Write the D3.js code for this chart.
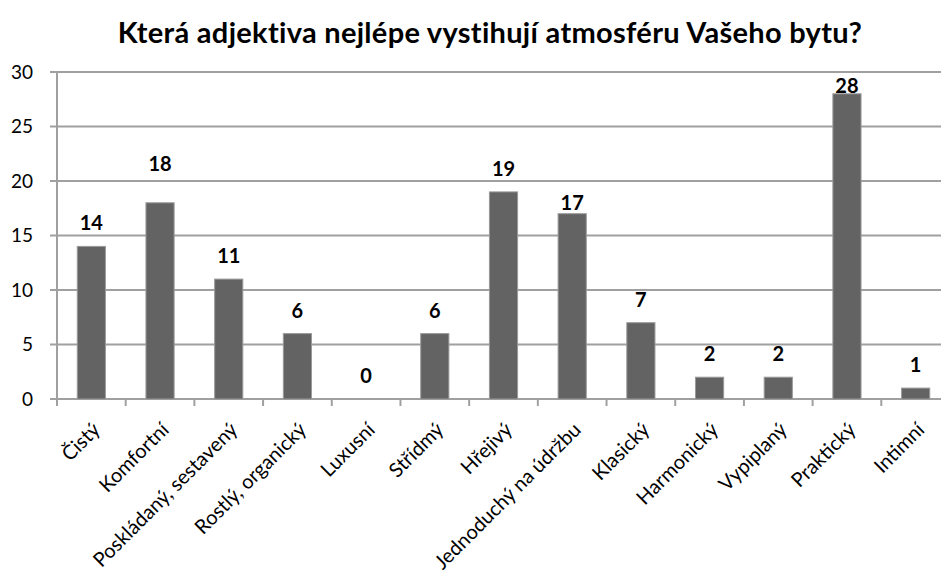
<!DOCTYPE html>
<html>
<head>
<meta charset="utf-8">
<script src="https://cdn.jsdelivr.net/npm/d3@7"></script>
<style>
  body { margin: 0; background: #fff; }
  svg { display: block; font-family: Lato, "Open Sans", sans-serif; }
</style>
</head>
<body>
<div id="chart"></div>
<script>
// data
const categories = ['Čistý', 'Komfortní', 'Poskládaný, sestavený', 'Rostlý, organický', 'Luxusní',
  'Střídmý', 'Hřejivý', 'Jednoduchý na údržbu', 'Klasický', 'Harmonický', 'Vypiplaný',
  'Praktický', 'Intimní'];
const counts = [14, 18, 11, 6, 0, 6, 19, 17, 7, 2, 2, 28, 1];
const yTicks = [0, 5, 10, 15, 20, 25, 30];
const title = 'Která adjektiva nejlépe vystihují atmosféru Vašeho bytu?';

const width = 941, height = 578;
const plot = { left: 57, right: 950, top: 72, bottom: 399 };
const gridColor = '#a0a0a0';

const svg = d3.select('#chart').append('svg')
  .attr('width', width)
  .attr('height', height);

let x = d3.scaleBand()
  .domain(categories)
  .range([plot.left, plot.right])
  .paddingInner(0.59)
  .paddingOuter(0.295);

let y = d3.scaleLinear()
  .domain([0, 30])
  .range([plot.bottom, plot.top]);

// title
svg.append('text')
  .attr('x', 490)
  .attr('y', 43)
  .attr('text-anchor', 'middle')
  .style('font-weight', 'bold')
  .style('font-size', '29px')
  .style('letter-spacing', '0.3px')
  .text(title);

// gridlines + y axis
svg.append('g')
  .selectAll('line.grid')
  .data(yTicks)
  .enter()
  .append('line')
  .attr('class', 'grid')
  .attr('x1', plot.left - 7)
  .attr('x2', plot.right)
  .attr('y1', d => y(d))
  .attr('y2', d => y(d))
  .attr('stroke', gridColor)
  .attr('stroke-width', 2);

svg.append('g')
  .selectAll('text.ytick')
  .data(yTicks)
  .enter()
  .append('text')
  .attr('class', 'ytick')
  .attr('x', 33)
  .attr('y', d => y(d))
  .attr('dy', '0.36em')
  .attr('text-anchor', 'end')
  .style('font-size', '19px')
  .style('fill', '#000')
  .text(d => d);

svg.append('line')
  .attr('x1', plot.left).attr('x2', plot.left)
  .attr('y1', plot.top - 1).attr('y2', plot.bottom + 7)
  .attr('stroke', gridColor)
  .attr('stroke-width', 2);

// x ticks at band boundaries
let step = x.step();
svg.append('g')
  .selectAll('line.xtick')
  .data(categories)
  .enter()
  .append('line')
  .attr('class', 'xtick')
  .attr('x1', d => x(d) - x.paddingOuter() * step + step)
  .attr('x2', d => x(d) - x.paddingOuter() * step + step)
  .attr('y1', plot.bottom)
  .attr('y2', plot.bottom + 7)
  .attr('stroke', gridColor)
  .attr('stroke-width', 2);

// bars
svg.append('g')
  .selectAll('rect.bar')
  .data(counts)
  .enter()
  .append('rect')
  .attr('class', 'bar')
  .attr('x', (d, i) => x(categories[i]))
  .attr('y', d => y(d))
  .attr('width', x.bandwidth())
  .attr('height', d => y(0) - y(d))
  .attr('fill', '#636363')
  .attr('stroke', '#9a9a9a')
  .attr('stroke-width', 1);

// value labels (a few were hand-moved in the original)
let labelLift = { 1: 32, 7: 4, 11: 1 };
svg.append('g')
  .selectAll('text.value')
  .data(counts)
  .enter()
  .append('text')
  .attr('class', 'value')
  .attr('x', (d, i) => x(categories[i]) + x.bandwidth() / 2)
  .attr('y', (d, i) => y(d) - (labelLift[i] !== undefined ? labelLift[i] : 16))
  .attr('text-anchor', 'middle')
  .style('font-size', '20px')
  .style('font-weight', 'bold')
  .style('fill', '#000')
  .text(d => d);

// category labels
svg.append('g')
  .selectAll('text.cat')
  .data(categories)
  .enter()
  .append('text')
  .attr('class', 'cat')
  .attr('transform', d => 'translate(' + (x(d) + x.bandwidth() / 2 + 10) + ',' + 431 + ') rotate(-45)')
  .attr('text-anchor', 'end')
  .style('font-size', '20px')
  .style('fill', '#000')
  .text(d => d);
</script>
</body>
</html>
